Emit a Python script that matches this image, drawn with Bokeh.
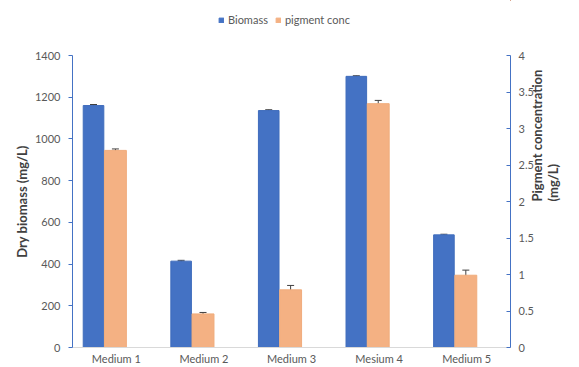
from bokeh.plotting import figure
from bokeh.layouts import column
from bokeh.models import (ColumnDataSource, FactorRange, Range1d, LinearAxis,
                          FixedTicker, Legend, LegendItem, Whisker,
                          CustomJSTickFormatter)
from bokeh.transform import dodge
from bokeh.embed import file_html
from bokeh.resources import INLINE
import math

media = ["Medium 1", "Medium 2", "Medium 3", "Mesium 4", "Medium 5"]
biomass = [1160, 414, 1136, 1300, 540]
biomass_err = [5, 4, 4, 3, 3]
pigment = [2.70, 0.46, 0.79, 3.34, 0.99]
pigment_err = [0.02, 0.02, 0.06, 0.045, 0.07]

left_ticks = [0, 200, 400, 600, 800, 1000, 1200, 1400]
right_ticks = [0, 0.5, 1, 1.5, 2, 2.5, 3, 3.5, 4]

BLUE = "#4472C4"
ORANGE = "#F4B183"
FONT = "Lato"
TXT = "#595959"

src = ColumnDataSource(dict(
    media=media,
    biomass=biomass,
    b_lo=[v - e for v, e in zip(biomass, biomass_err)],
    b_hi=[v + e for v, e in zip(biomass, biomass_err)],
    pigment=pigment,
    p_lo=[v - e for v, e in zip(pigment, pigment_err)],
    p_hi=[v + e for v, e in zip(pigment, pigment_err)],
))

# ---- legend strip across the top ----
# key glyphs share the chart's data but lie wholly outside this strip's
# ranges, so only their legend swatches are visible
lg = figure(width=579, height=49, x_range=(0, 1), y_range=(0, 1),
            min_border=0, output_backend="svg", toolbar_location=None)
lg.axis.visible = False
lg.grid.visible = False
lg.outline_line_color = None
key_b = lg.vbar(x="biomass", bottom="b_lo", top="b_hi", width=0.1,
                source=src, fill_color=BLUE, line_color=BLUE)
key_p = lg.vbar(x="biomass", bottom="b_lo", top="b_hi", width=0.1,
                source=src, fill_color=ORANGE, line_color=ORANGE)
legend = Legend(items=[LegendItem(label="Biomass", renderers=[key_b]),
                       LegendItem(label="pigment conc", renderers=[key_p])],
                orientation="horizontal", location=(146, 23),
                label_text_font=FONT, label_text_font_size="11px",
                label_text_color=TXT, glyph_width=6, glyph_height=6,
                label_standoff=4, spacing=7, border_line_color=None,
                background_fill_alpha=0, padding=0, margin=0,
                label_height=12)
lg.add_layout(legend, "center")

# ---- main chart ----
p = figure(x_range=FactorRange(*media, range_padding=0),
           y_range=Range1d(0, 1400),
           width=579, height=318,
           min_border_left=72, min_border_right=63,
           min_border_top=6, min_border_bottom=20,
           output_backend="svg", toolbar_location=None)
p.extra_y_ranges = {"pig": Range1d(0, 4)}

p.outline_line_color = None
p.xgrid.grid_line_color = None
p.ygrid.grid_line_color = None

p.vbar(x=dodge("media", -0.26, range=p.x_range), top="biomass",
       width=0.235, source=src, fill_color=BLUE,
       line_color="#3F6CBC", line_width=1)
p.vbar(x=dodge("media", -0.01, range=p.x_range), top="pigment",
       width=0.25, source=src, fill_color=ORANGE,
       line_color="#F0AC7C", line_width=1, y_range_name="pig")

wb = Whisker(base=dodge("media", -0.26, range=p.x_range), lower="b_lo",
             upper="b_hi", source=src, line_color="#404040", line_width=1)
wp = Whisker(base=dodge("media", -0.01, range=p.x_range), lower="p_lo",
             upper="p_hi", source=src, line_color="#404040", line_width=1,
             y_range_name="pig")
for w in (wb, wp):
    w.upper_head.size = 7
    w.lower_head.size = 7
    w.upper_head.line_color = "#404040"
    w.lower_head.line_color = "#404040"
    p.add_layout(w)

# left axis
ya = p.yaxis[0]
ya.ticker = FixedTicker(ticks=left_ticks)
ya.axis_label = "Dry biomass (mg/L)"
ya.axis_label_text_font = FONT
ya.axis_label_text_font_size = "13px"
ya.axis_label_text_font_style = "bold"
ya.axis_label_text_color = "#404040"
ya.axis_label_standoff = 2
ya.major_label_text_font = FONT
ya.major_label_text_font_size = "11px"
ya.major_label_text_color = TXT
ya.axis_line_color = BLUE
ya.major_tick_line_color = BLUE
ya.major_tick_out = 4
ya.major_tick_in = 0
ya.minor_tick_line_color = None
ya.major_label_standoff = 8

# right axis, title reads bottom-to-top like the left one
ra = LinearAxis(y_range_name="pig", ticker=FixedTicker(ticks=right_ticks),
                formatter=CustomJSTickFormatter(code="return tick.toString()"))
ra.axis_label = "Pigment concentration\n(mg/L)"
ra.axis_label_text_font = FONT
ra.axis_label_text_font_size = "13px"
ra.axis_label_text_font_style = "bold"
ra.axis_label_text_color = "#404040"
ra.axis_label_text_line_height = 1.0
ra.axis_label_standoff = 8
ra.axis_label_orientation = math.pi / 2
ra.major_label_text_font = FONT
ra.major_label_text_font_size = "11px"
ra.major_label_text_color = TXT
ra.axis_line_color = BLUE
ra.major_tick_line_color = BLUE
ra.major_tick_out = 0
ra.major_tick_in = 4
ra.minor_tick_line_color = None
ra.major_label_standoff = 8
p.add_layout(ra, "right")

# bottom axis
xa = p.xaxis[0]
xa.axis_line_color = "#D9D9D9"
xa.major_tick_line_color = None
xa.major_tick_out = 0
xa.major_tick_in = 0
xa.minor_tick_line_color = None
xa.major_label_text_font = FONT
xa.major_label_text_font_size = "11px"
xa.major_label_text_color = TXT
xa.major_label_standoff = 4

page = column(lg, p, spacing=0)
open("out.html", "w").write(file_html(page, INLINE))
